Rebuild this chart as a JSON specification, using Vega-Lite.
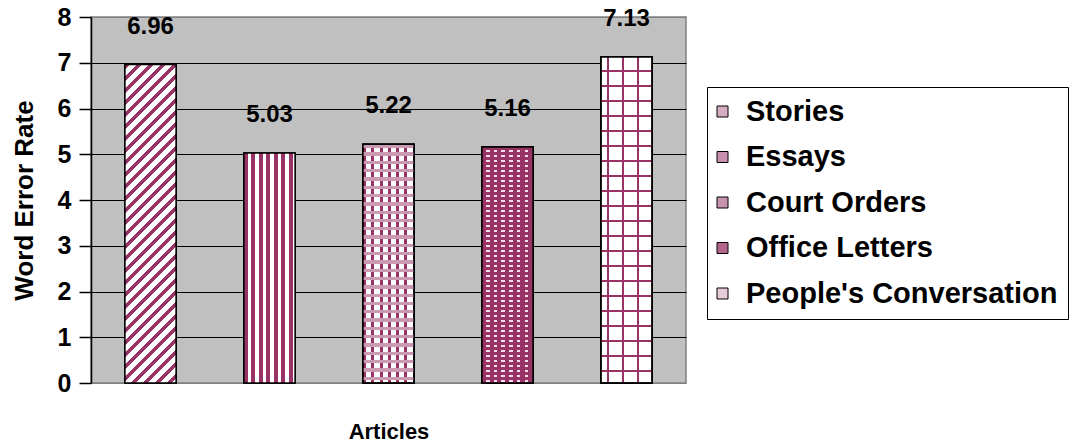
{
  "$schema": "https://vega.github.io/schema/vega-lite/v6.json",
  "autosize": {"type": "none"},
  "padding": {"left": 91, "top": 17, "right": 385, "bottom": 64},
  "width": 595,
  "height": 366,
  "background": "white",
  "data": {"values": [
    {"article": "Stories", "value": 6.96},
    {"article": "Essays", "value": 5.03},
    {"article": "Court Orders", "value": 5.22},
    {"article": "Office Letters", "value": 5.16},
    {"article": "People's Conversation", "value": 7.13}
  ]},
  "encoding": {
    "x": {"field": "article", "type": "nominal",
      "scale": {"domain": ["Stories", "Essays", "Court Orders", "Office Letters", "People's Conversation"], "paddingInner": 0.57, "paddingOuter": 0.285},
      "axis": {"labels": false, "ticks": false, "domain": false, "grid": false, "title": "Articles", "titlePadding": 38}},
    "y": {"field": "value", "type": "quantitative",
      "scale": {"domain": [0, 8], "nice": false},
      "axis": {"values": [0, 1, 2, 3, 4, 5, 6, 7, 8], "title": "Word Error Rate", "titlePadding": 20,
        "labelFontSize": 25, "labelFontWeight": "bold", "labelFont": "Liberation Sans", "labelPadding": 8,
        "grid": true,
        "gridColor": {"condition": {"test": "datum.value === 0 || datum.value === 8", "value": "#808080"}, "value": "black"}}}
  },
  "layer": [
    {
      "mark": {"type": "bar", "stroke": "black", "strokeWidth": 1.5, "opacity": 1},
      "encoding": {
        "color": {"field": "article", "type": "nominal",
          "scale": {"domain": ["Stories", "Essays", "Court Orders", "Office Letters", "People's Conversation"], "range": ["#d6adc2", "#c990ae", "#c792ad", "#b3668c", "#e6ccd9"]},
          "legend": {"title": null, "orient": "none", "legendX": 616, "legendY": 70, "symbolType": "square", "symbolSize": 121, "symbolStrokeColor": "black", "symbolStrokeWidth": 1, "symbolOpacity": 1, "symbolOffset": -9,
            "labelFontSize": 29, "labelFontWeight": "bold", "labelFont": "Liberation Sans", "labelColor": "black", "labelOffset": 9, "rowPadding": 15.5, "padding": 10, "strokeColor": "black", "fillColor": "white", "labelLimit": 400}}
      }
    },
    {
      "transform": [{"filter": {"field": "article", "equal": "Stories"}}],
      "mark": {"type": "bar", "stroke": "black", "strokeWidth": 1.5,
        "fill": {"gradient": "linear", "x1": 0, "y1": 0, "x2": 0.2362, "y2": 1.4696, "stops": [
          {"offset": 0, "color": "#993366"}, {"offset": 0.01, "color": "#993366"}, {"offset": 0.01, "color": "white"}, {"offset": 0.025, "color": "white"},
          {"offset": 0.025, "color": "#993366"}, {"offset": 0.035, "color": "#993366"}, {"offset": 0.035, "color": "white"}, {"offset": 0.05, "color": "white"},
          {"offset": 0.05, "color": "#993366"}, {"offset": 0.06, "color": "#993366"}, {"offset": 0.06, "color": "white"}, {"offset": 0.075, "color": "white"},
          {"offset": 0.075, "color": "#993366"}, {"offset": 0.085, "color": "#993366"}, {"offset": 0.085, "color": "white"}, {"offset": 0.1, "color": "white"},
          {"offset": 0.1, "color": "#993366"}, {"offset": 0.11, "color": "#993366"}, {"offset": 0.11, "color": "white"}, {"offset": 0.125, "color": "white"},
          {"offset": 0.125, "color": "#993366"}, {"offset": 0.135, "color": "#993366"}, {"offset": 0.135, "color": "white"}, {"offset": 0.15, "color": "white"},
          {"offset": 0.15, "color": "#993366"}, {"offset": 0.16, "color": "#993366"}, {"offset": 0.16, "color": "white"}, {"offset": 0.175, "color": "white"},
          {"offset": 0.175, "color": "#993366"}, {"offset": 0.185, "color": "#993366"}, {"offset": 0.185, "color": "white"}, {"offset": 0.2, "color": "white"},
          {"offset": 0.2, "color": "#993366"}, {"offset": 0.21, "color": "#993366"}, {"offset": 0.21, "color": "white"}, {"offset": 0.225, "color": "white"},
          {"offset": 0.225, "color": "#993366"}, {"offset": 0.235, "color": "#993366"}, {"offset": 0.235, "color": "white"}, {"offset": 0.25, "color": "white"},
          {"offset": 0.25, "color": "#993366"}, {"offset": 0.26, "color": "#993366"}, {"offset": 0.26, "color": "white"}, {"offset": 0.275, "color": "white"},
          {"offset": 0.275, "color": "#993366"}, {"offset": 0.285, "color": "#993366"}, {"offset": 0.285, "color": "white"}, {"offset": 0.3, "color": "white"},
          {"offset": 0.3, "color": "#993366"}, {"offset": 0.31, "color": "#993366"}, {"offset": 0.31, "color": "white"}, {"offset": 0.325, "color": "white"},
          {"offset": 0.325, "color": "#993366"}, {"offset": 0.335, "color": "#993366"}, {"offset": 0.335, "color": "white"}, {"offset": 0.35, "color": "white"},
          {"offset": 0.35, "color": "#993366"}, {"offset": 0.36, "color": "#993366"}, {"offset": 0.36, "color": "white"}, {"offset": 0.375, "color": "white"},
          {"offset": 0.375, "color": "#993366"}, {"offset": 0.385, "color": "#993366"}, {"offset": 0.385, "color": "white"}, {"offset": 0.4, "color": "white"},
          {"offset": 0.4, "color": "#993366"}, {"offset": 0.41, "color": "#993366"}, {"offset": 0.41, "color": "white"}, {"offset": 0.425, "color": "white"},
          {"offset": 0.425, "color": "#993366"}, {"offset": 0.435, "color": "#993366"}, {"offset": 0.435, "color": "white"}, {"offset": 0.45, "color": "white"},
          {"offset": 0.45, "color": "#993366"}, {"offset": 0.46, "color": "#993366"}, {"offset": 0.46, "color": "white"}, {"offset": 0.475, "color": "white"},
          {"offset": 0.475, "color": "#993366"}, {"offset": 0.485, "color": "#993366"}, {"offset": 0.485, "color": "white"}, {"offset": 0.5, "color": "white"},
          {"offset": 0.5, "color": "#993366"}, {"offset": 0.51, "color": "#993366"}, {"offset": 0.51, "color": "white"}, {"offset": 0.525, "color": "white"},
          {"offset": 0.525, "color": "#993366"}, {"offset": 0.535, "color": "#993366"}, {"offset": 0.535, "color": "white"}, {"offset": 0.55, "color": "white"},
          {"offset": 0.55, "color": "#993366"}, {"offset": 0.56, "color": "#993366"}, {"offset": 0.56, "color": "white"}, {"offset": 0.575, "color": "white"},
          {"offset": 0.575, "color": "#993366"}, {"offset": 0.585, "color": "#993366"}, {"offset": 0.585, "color": "white"}, {"offset": 0.6, "color": "white"},
          {"offset": 0.6, "color": "#993366"}, {"offset": 0.61, "color": "#993366"}, {"offset": 0.61, "color": "white"}, {"offset": 0.625, "color": "white"},
          {"offset": 0.625, "color": "#993366"}, {"offset": 0.635, "color": "#993366"}, {"offset": 0.635, "color": "white"}, {"offset": 0.65, "color": "white"},
          {"offset": 0.65, "color": "#993366"}, {"offset": 0.66, "color": "#993366"}, {"offset": 0.66, "color": "white"}, {"offset": 0.675, "color": "white"},
          {"offset": 0.675, "color": "#993366"}, {"offset": 0.685, "color": "#993366"}, {"offset": 0.685, "color": "white"}, {"offset": 0.7, "color": "white"},
          {"offset": 0.7, "color": "#993366"}, {"offset": 0.71, "color": "#993366"}, {"offset": 0.71, "color": "white"}, {"offset": 0.725, "color": "white"},
          {"offset": 0.725, "color": "#993366"}, {"offset": 0.735, "color": "#993366"}, {"offset": 0.735, "color": "white"}, {"offset": 0.75, "color": "white"},
          {"offset": 0.75, "color": "#993366"}, {"offset": 0.76, "color": "#993366"}, {"offset": 0.76, "color": "white"}
        ]}}
    },
    {
      "transform": [{"filter": {"field": "article", "equal": "Essays"}}],
      "mark": {"type": "bar", "stroke": "black", "strokeWidth": 1.5,
        "fill": {"gradient": "linear", "x1": 0, "y1": 0, "x2": 2.931, "y2": 0, "stops": [
          {"offset": 0, "color": "#993366"}, {"offset": 0.027, "color": "#993366"}, {"offset": 0.027, "color": "white"}, {"offset": 0.05, "color": "white"},
          {"offset": 0.05, "color": "#993366"}, {"offset": 0.077, "color": "#993366"}, {"offset": 0.077, "color": "white"}, {"offset": 0.1, "color": "white"},
          {"offset": 0.1, "color": "#993366"}, {"offset": 0.127, "color": "#993366"}, {"offset": 0.127, "color": "white"}, {"offset": 0.15, "color": "white"},
          {"offset": 0.15, "color": "#993366"}, {"offset": 0.177, "color": "#993366"}, {"offset": 0.177, "color": "white"}, {"offset": 0.2, "color": "white"},
          {"offset": 0.2, "color": "#993366"}, {"offset": 0.227, "color": "#993366"}, {"offset": 0.227, "color": "white"}, {"offset": 0.25, "color": "white"},
          {"offset": 0.25, "color": "#993366"}, {"offset": 0.277, "color": "#993366"}, {"offset": 0.277, "color": "white"}, {"offset": 0.3, "color": "white"},
          {"offset": 0.3, "color": "#993366"}, {"offset": 0.327, "color": "#993366"}, {"offset": 0.327, "color": "white"}
        ]}}
    },
    {
      "transform": [{"filter": {"field": "article", "equal": "Court Orders"}}],
      "mark": {"type": "bar", "stroke": "black", "strokeWidth": 1.5,
        "fill": {"gradient": "linear", "x1": 0, "y1": 0, "x2": 3.244, "y2": 0, "stops": [
          {"offset": 0, "color": "#993366"}, {"offset": 0.018, "color": "#993366"}, {"offset": 0.018, "color": "white"}, {"offset": 0.05, "color": "white"},
          {"offset": 0.05, "color": "#993366"}, {"offset": 0.068, "color": "#993366"}, {"offset": 0.068, "color": "white"}, {"offset": 0.1, "color": "white"},
          {"offset": 0.1, "color": "#993366"}, {"offset": 0.118, "color": "#993366"}, {"offset": 0.118, "color": "white"}, {"offset": 0.15, "color": "white"},
          {"offset": 0.15, "color": "#993366"}, {"offset": 0.168, "color": "#993366"}, {"offset": 0.168, "color": "white"}, {"offset": 0.2, "color": "white"},
          {"offset": 0.2, "color": "#993366"}, {"offset": 0.218, "color": "#993366"}, {"offset": 0.218, "color": "white"}, {"offset": 0.25, "color": "white"},
          {"offset": 0.25, "color": "#993366"}, {"offset": 0.268, "color": "#993366"}, {"offset": 0.268, "color": "white"}, {"offset": 0.3, "color": "white"},
          {"offset": 0.3, "color": "#993366"}, {"offset": 0.318, "color": "#993366"}, {"offset": 0.318, "color": "white"}
        ]}}
    },
    {
      "transform": [{"filter": {"field": "article", "equal": "Court Orders"}}],
      "mark": {"type": "bar", "stroke": "black", "strokeWidth": 1.5,
        "fill": {"gradient": "linear", "x1": 0, "y1": 0, "x2": 0, "y2": 1.39, "stops": [
          {"offset": 0, "color": "#cc99b3"}, {"offset": 0.01, "color": "#cc99b3"}, {"offset": 0.01, "color": "rgba(255,255,255,0)"}, {"offset": 0.025, "color": "rgba(255,255,255,0)"},
          {"offset": 0.025, "color": "#cc99b3"}, {"offset": 0.035, "color": "#cc99b3"}, {"offset": 0.035, "color": "rgba(255,255,255,0)"}, {"offset": 0.05, "color": "rgba(255,255,255,0)"},
          {"offset": 0.05, "color": "#cc99b3"}, {"offset": 0.06, "color": "#cc99b3"}, {"offset": 0.06, "color": "rgba(255,255,255,0)"}, {"offset": 0.075, "color": "rgba(255,255,255,0)"},
          {"offset": 0.075, "color": "#cc99b3"}, {"offset": 0.085, "color": "#cc99b3"}, {"offset": 0.085, "color": "rgba(255,255,255,0)"}, {"offset": 0.1, "color": "rgba(255,255,255,0)"},
          {"offset": 0.1, "color": "#cc99b3"}, {"offset": 0.11, "color": "#cc99b3"}, {"offset": 0.11, "color": "rgba(255,255,255,0)"}, {"offset": 0.125, "color": "rgba(255,255,255,0)"},
          {"offset": 0.125, "color": "#cc99b3"}, {"offset": 0.135, "color": "#cc99b3"}, {"offset": 0.135, "color": "rgba(255,255,255,0)"}, {"offset": 0.15, "color": "rgba(255,255,255,0)"},
          {"offset": 0.15, "color": "#cc99b3"}, {"offset": 0.16, "color": "#cc99b3"}, {"offset": 0.16, "color": "rgba(255,255,255,0)"}, {"offset": 0.175, "color": "rgba(255,255,255,0)"},
          {"offset": 0.175, "color": "#cc99b3"}, {"offset": 0.185, "color": "#cc99b3"}, {"offset": 0.185, "color": "rgba(255,255,255,0)"}, {"offset": 0.2, "color": "rgba(255,255,255,0)"},
          {"offset": 0.2, "color": "#cc99b3"}, {"offset": 0.21, "color": "#cc99b3"}, {"offset": 0.21, "color": "rgba(255,255,255,0)"}, {"offset": 0.225, "color": "rgba(255,255,255,0)"},
          {"offset": 0.225, "color": "#cc99b3"}, {"offset": 0.235, "color": "#cc99b3"}, {"offset": 0.235, "color": "rgba(255,255,255,0)"}, {"offset": 0.25, "color": "rgba(255,255,255,0)"},
          {"offset": 0.25, "color": "#cc99b3"}, {"offset": 0.26, "color": "#cc99b3"}, {"offset": 0.26, "color": "rgba(255,255,255,0)"}, {"offset": 0.275, "color": "rgba(255,255,255,0)"},
          {"offset": 0.275, "color": "#cc99b3"}, {"offset": 0.285, "color": "#cc99b3"}, {"offset": 0.285, "color": "rgba(255,255,255,0)"}, {"offset": 0.3, "color": "rgba(255,255,255,0)"},
          {"offset": 0.3, "color": "#cc99b3"}, {"offset": 0.31, "color": "#cc99b3"}, {"offset": 0.31, "color": "rgba(255,255,255,0)"}, {"offset": 0.325, "color": "rgba(255,255,255,0)"},
          {"offset": 0.325, "color": "#cc99b3"}, {"offset": 0.335, "color": "#cc99b3"}, {"offset": 0.335, "color": "rgba(255,255,255,0)"}, {"offset": 0.35, "color": "rgba(255,255,255,0)"},
          {"offset": 0.35, "color": "#cc99b3"}, {"offset": 0.36, "color": "#cc99b3"}, {"offset": 0.36, "color": "rgba(255,255,255,0)"}, {"offset": 0.375, "color": "rgba(255,255,255,0)"},
          {"offset": 0.375, "color": "#cc99b3"}, {"offset": 0.385, "color": "#cc99b3"}, {"offset": 0.385, "color": "rgba(255,255,255,0)"}, {"offset": 0.4, "color": "rgba(255,255,255,0)"},
          {"offset": 0.4, "color": "#cc99b3"}, {"offset": 0.41, "color": "#cc99b3"}, {"offset": 0.41, "color": "rgba(255,255,255,0)"}, {"offset": 0.425, "color": "rgba(255,255,255,0)"},
          {"offset": 0.425, "color": "#cc99b3"}, {"offset": 0.435, "color": "#cc99b3"}, {"offset": 0.435, "color": "rgba(255,255,255,0)"}, {"offset": 0.45, "color": "rgba(255,255,255,0)"},
          {"offset": 0.45, "color": "#cc99b3"}, {"offset": 0.46, "color": "#cc99b3"}, {"offset": 0.46, "color": "rgba(255,255,255,0)"}, {"offset": 0.475, "color": "rgba(255,255,255,0)"},
          {"offset": 0.475, "color": "#cc99b3"}, {"offset": 0.485, "color": "#cc99b3"}, {"offset": 0.485, "color": "rgba(255,255,255,0)"}, {"offset": 0.5, "color": "rgba(255,255,255,0)"},
          {"offset": 0.5, "color": "#cc99b3"}, {"offset": 0.51, "color": "#cc99b3"}, {"offset": 0.51, "color": "rgba(255,255,255,0)"}, {"offset": 0.525, "color": "rgba(255,255,255,0)"},
          {"offset": 0.525, "color": "#cc99b3"}, {"offset": 0.535, "color": "#cc99b3"}, {"offset": 0.535, "color": "rgba(255,255,255,0)"}, {"offset": 0.55, "color": "rgba(255,255,255,0)"},
          {"offset": 0.55, "color": "#cc99b3"}, {"offset": 0.56, "color": "#cc99b3"}, {"offset": 0.56, "color": "rgba(255,255,255,0)"}, {"offset": 0.575, "color": "rgba(255,255,255,0)"},
          {"offset": 0.575, "color": "#cc99b3"}, {"offset": 0.585, "color": "#cc99b3"}, {"offset": 0.585, "color": "rgba(255,255,255,0)"}, {"offset": 0.6, "color": "rgba(255,255,255,0)"},
          {"offset": 0.6, "color": "#cc99b3"}, {"offset": 0.61, "color": "#cc99b3"}, {"offset": 0.61, "color": "rgba(255,255,255,0)"}, {"offset": 0.625, "color": "rgba(255,255,255,0)"},
          {"offset": 0.625, "color": "#cc99b3"}, {"offset": 0.635, "color": "#cc99b3"}, {"offset": 0.635, "color": "rgba(255,255,255,0)"}, {"offset": 0.65, "color": "rgba(255,255,255,0)"},
          {"offset": 0.65, "color": "#cc99b3"}, {"offset": 0.66, "color": "#cc99b3"}, {"offset": 0.66, "color": "rgba(255,255,255,0)"}, {"offset": 0.675, "color": "rgba(255,255,255,0)"},
          {"offset": 0.675, "color": "#cc99b3"}, {"offset": 0.685, "color": "#cc99b3"}, {"offset": 0.685, "color": "rgba(255,255,255,0)"}, {"offset": 0.7, "color": "rgba(255,255,255,0)"},
          {"offset": 0.7, "color": "#cc99b3"}, {"offset": 0.71, "color": "#cc99b3"}, {"offset": 0.71, "color": "rgba(255,255,255,0)"}
        ]}}
    },
    {
      "transform": [{"filter": {"field": "article", "equal": "Office Letters"}}],
      "mark": {"type": "bar", "stroke": "black", "strokeWidth": 1.5,
        "fill": {"gradient": "linear", "x1": 0, "y1": 0, "x2": 3.01, "y2": 0, "stops": [
          {"offset": 0, "color": "#993366"}, {"offset": 0.027, "color": "#993366"}, {"offset": 0.027, "color": "#f3e1ea"}, {"offset": 0.05, "color": "#f3e1ea"},
          {"offset": 0.05, "color": "#993366"}, {"offset": 0.077, "color": "#993366"}, {"offset": 0.077, "color": "#f3e1ea"}, {"offset": 0.1, "color": "#f3e1ea"},
          {"offset": 0.1, "color": "#993366"}, {"offset": 0.127, "color": "#993366"}, {"offset": 0.127, "color": "#f3e1ea"}, {"offset": 0.15, "color": "#f3e1ea"},
          {"offset": 0.15, "color": "#993366"}, {"offset": 0.177, "color": "#993366"}, {"offset": 0.177, "color": "#f3e1ea"}, {"offset": 0.2, "color": "#f3e1ea"},
          {"offset": 0.2, "color": "#993366"}, {"offset": 0.227, "color": "#993366"}, {"offset": 0.227, "color": "#f3e1ea"}, {"offset": 0.25, "color": "#f3e1ea"},
          {"offset": 0.25, "color": "#993366"}, {"offset": 0.277, "color": "#993366"}, {"offset": 0.277, "color": "#f3e1ea"}, {"offset": 0.3, "color": "#f3e1ea"},
          {"offset": 0.3, "color": "#993366"}, {"offset": 0.327, "color": "#993366"}, {"offset": 0.327, "color": "#f3e1ea"}
        ]}}
    },
    {
      "transform": [{"filter": {"field": "article", "equal": "Office Letters"}}],
      "mark": {"type": "bar", "stroke": "black", "strokeWidth": 1.5,
        "fill": {"gradient": "linear", "x1": 0, "y1": 0, "x2": 0, "y2": 1.059, "stops": [
          {"offset": 0, "color": "#993366"}, {"offset": 0.012, "color": "#993366"}, {"offset": 0.012, "color": "rgba(255,255,255,0)"}, {"offset": 0.02, "color": "rgba(255,255,255,0)"},
          {"offset": 0.02, "color": "#993366"}, {"offset": 0.032, "color": "#993366"}, {"offset": 0.032, "color": "rgba(255,255,255,0)"}, {"offset": 0.04, "color": "rgba(255,255,255,0)"},
          {"offset": 0.04, "color": "#993366"}, {"offset": 0.052, "color": "#993366"}, {"offset": 0.052, "color": "rgba(255,255,255,0)"}, {"offset": 0.06, "color": "rgba(255,255,255,0)"},
          {"offset": 0.06, "color": "#993366"}, {"offset": 0.072, "color": "#993366"}, {"offset": 0.072, "color": "rgba(255,255,255,0)"}, {"offset": 0.08, "color": "rgba(255,255,255,0)"},
          {"offset": 0.08, "color": "#993366"}, {"offset": 0.092, "color": "#993366"}, {"offset": 0.092, "color": "rgba(255,255,255,0)"}, {"offset": 0.1, "color": "rgba(255,255,255,0)"},
          {"offset": 0.1, "color": "#993366"}, {"offset": 0.112, "color": "#993366"}, {"offset": 0.112, "color": "rgba(255,255,255,0)"}, {"offset": 0.12, "color": "rgba(255,255,255,0)"},
          {"offset": 0.12, "color": "#993366"}, {"offset": 0.132, "color": "#993366"}, {"offset": 0.132, "color": "rgba(255,255,255,0)"}, {"offset": 0.14, "color": "rgba(255,255,255,0)"},
          {"offset": 0.14, "color": "#993366"}, {"offset": 0.152, "color": "#993366"}, {"offset": 0.152, "color": "rgba(255,255,255,0)"}, {"offset": 0.16, "color": "rgba(255,255,255,0)"},
          {"offset": 0.16, "color": "#993366"}, {"offset": 0.172, "color": "#993366"}, {"offset": 0.172, "color": "rgba(255,255,255,0)"}, {"offset": 0.18, "color": "rgba(255,255,255,0)"},
          {"offset": 0.18, "color": "#993366"}, {"offset": 0.192, "color": "#993366"}, {"offset": 0.192, "color": "rgba(255,255,255,0)"}, {"offset": 0.2, "color": "rgba(255,255,255,0)"},
          {"offset": 0.2, "color": "#993366"}, {"offset": 0.212, "color": "#993366"}, {"offset": 0.212, "color": "rgba(255,255,255,0)"}, {"offset": 0.22, "color": "rgba(255,255,255,0)"},
          {"offset": 0.22, "color": "#993366"}, {"offset": 0.232, "color": "#993366"}, {"offset": 0.232, "color": "rgba(255,255,255,0)"}, {"offset": 0.24, "color": "rgba(255,255,255,0)"},
          {"offset": 0.24, "color": "#993366"}, {"offset": 0.252, "color": "#993366"}, {"offset": 0.252, "color": "rgba(255,255,255,0)"}, {"offset": 0.26, "color": "rgba(255,255,255,0)"},
          {"offset": 0.26, "color": "#993366"}, {"offset": 0.272, "color": "#993366"}, {"offset": 0.272, "color": "rgba(255,255,255,0)"}, {"offset": 0.28, "color": "rgba(255,255,255,0)"},
          {"offset": 0.28, "color": "#993366"}, {"offset": 0.292, "color": "#993366"}, {"offset": 0.292, "color": "rgba(255,255,255,0)"}, {"offset": 0.3, "color": "rgba(255,255,255,0)"},
          {"offset": 0.3, "color": "#993366"}, {"offset": 0.312, "color": "#993366"}, {"offset": 0.312, "color": "rgba(255,255,255,0)"}, {"offset": 0.32, "color": "rgba(255,255,255,0)"},
          {"offset": 0.32, "color": "#993366"}, {"offset": 0.332, "color": "#993366"}, {"offset": 0.332, "color": "rgba(255,255,255,0)"}, {"offset": 0.34, "color": "rgba(255,255,255,0)"},
          {"offset": 0.34, "color": "#993366"}, {"offset": 0.352, "color": "#993366"}, {"offset": 0.352, "color": "rgba(255,255,255,0)"}, {"offset": 0.36, "color": "rgba(255,255,255,0)"},
          {"offset": 0.36, "color": "#993366"}, {"offset": 0.372, "color": "#993366"}, {"offset": 0.372, "color": "rgba(255,255,255,0)"}, {"offset": 0.38, "color": "rgba(255,255,255,0)"},
          {"offset": 0.38, "color": "#993366"}, {"offset": 0.392, "color": "#993366"}, {"offset": 0.392, "color": "rgba(255,255,255,0)"}, {"offset": 0.4, "color": "rgba(255,255,255,0)"},
          {"offset": 0.4, "color": "#993366"}, {"offset": 0.412, "color": "#993366"}, {"offset": 0.412, "color": "rgba(255,255,255,0)"}, {"offset": 0.42, "color": "rgba(255,255,255,0)"},
          {"offset": 0.42, "color": "#993366"}, {"offset": 0.432, "color": "#993366"}, {"offset": 0.432, "color": "rgba(255,255,255,0)"}, {"offset": 0.44, "color": "rgba(255,255,255,0)"},
          {"offset": 0.44, "color": "#993366"}, {"offset": 0.452, "color": "#993366"}, {"offset": 0.452, "color": "rgba(255,255,255,0)"}, {"offset": 0.46, "color": "rgba(255,255,255,0)"},
          {"offset": 0.46, "color": "#993366"}, {"offset": 0.472, "color": "#993366"}, {"offset": 0.472, "color": "rgba(255,255,255,0)"}, {"offset": 0.48, "color": "rgba(255,255,255,0)"},
          {"offset": 0.48, "color": "#993366"}, {"offset": 0.492, "color": "#993366"}, {"offset": 0.492, "color": "rgba(255,255,255,0)"}, {"offset": 0.5, "color": "rgba(255,255,255,0)"},
          {"offset": 0.5, "color": "#993366"}, {"offset": 0.512, "color": "#993366"}, {"offset": 0.512, "color": "rgba(255,255,255,0)"}, {"offset": 0.52, "color": "rgba(255,255,255,0)"},
          {"offset": 0.52, "color": "#993366"}, {"offset": 0.532, "color": "#993366"}, {"offset": 0.532, "color": "rgba(255,255,255,0)"}, {"offset": 0.54, "color": "rgba(255,255,255,0)"},
          {"offset": 0.54, "color": "#993366"}, {"offset": 0.552, "color": "#993366"}, {"offset": 0.552, "color": "rgba(255,255,255,0)"}, {"offset": 0.56, "color": "rgba(255,255,255,0)"},
          {"offset": 0.56, "color": "#993366"}, {"offset": 0.572, "color": "#993366"}, {"offset": 0.572, "color": "rgba(255,255,255,0)"}, {"offset": 0.58, "color": "rgba(255,255,255,0)"},
          {"offset": 0.58, "color": "#993366"}, {"offset": 0.592, "color": "#993366"}, {"offset": 0.592, "color": "rgba(255,255,255,0)"}, {"offset": 0.6, "color": "rgba(255,255,255,0)"},
          {"offset": 0.6, "color": "#993366"}, {"offset": 0.612, "color": "#993366"}, {"offset": 0.612, "color": "rgba(255,255,255,0)"}, {"offset": 0.62, "color": "rgba(255,255,255,0)"},
          {"offset": 0.62, "color": "#993366"}, {"offset": 0.632, "color": "#993366"}, {"offset": 0.632, "color": "rgba(255,255,255,0)"}, {"offset": 0.64, "color": "rgba(255,255,255,0)"},
          {"offset": 0.64, "color": "#993366"}, {"offset": 0.652, "color": "#993366"}, {"offset": 0.652, "color": "rgba(255,255,255,0)"}, {"offset": 0.66, "color": "rgba(255,255,255,0)"},
          {"offset": 0.66, "color": "#993366"}, {"offset": 0.672, "color": "#993366"}, {"offset": 0.672, "color": "rgba(255,255,255,0)"}, {"offset": 0.68, "color": "rgba(255,255,255,0)"},
          {"offset": 0.68, "color": "#993366"}, {"offset": 0.692, "color": "#993366"}, {"offset": 0.692, "color": "rgba(255,255,255,0)"}, {"offset": 0.7, "color": "rgba(255,255,255,0)"},
          {"offset": 0.7, "color": "#993366"}, {"offset": 0.712, "color": "#993366"}, {"offset": 0.712, "color": "rgba(255,255,255,0)"}, {"offset": 0.72, "color": "rgba(255,255,255,0)"},
          {"offset": 0.72, "color": "#993366"}, {"offset": 0.732, "color": "#993366"}, {"offset": 0.732, "color": "rgba(255,255,255,0)"}, {"offset": 0.74, "color": "rgba(255,255,255,0)"},
          {"offset": 0.74, "color": "#993366"}, {"offset": 0.752, "color": "#993366"}, {"offset": 0.752, "color": "rgba(255,255,255,0)"}, {"offset": 0.76, "color": "rgba(255,255,255,0)"},
          {"offset": 0.76, "color": "#993366"}, {"offset": 0.772, "color": "#993366"}, {"offset": 0.772, "color": "rgba(255,255,255,0)"}, {"offset": 0.78, "color": "rgba(255,255,255,0)"},
          {"offset": 0.78, "color": "#993366"}, {"offset": 0.792, "color": "#993366"}, {"offset": 0.792, "color": "rgba(255,255,255,0)"}, {"offset": 0.8, "color": "rgba(255,255,255,0)"},
          {"offset": 0.8, "color": "#993366"}, {"offset": 0.812, "color": "#993366"}, {"offset": 0.812, "color": "rgba(255,255,255,0)"}, {"offset": 0.82, "color": "rgba(255,255,255,0)"},
          {"offset": 0.82, "color": "#993366"}, {"offset": 0.832, "color": "#993366"}, {"offset": 0.832, "color": "rgba(255,255,255,0)"}, {"offset": 0.84, "color": "rgba(255,255,255,0)"},
          {"offset": 0.84, "color": "#993366"}, {"offset": 0.852, "color": "#993366"}, {"offset": 0.852, "color": "rgba(255,255,255,0)"}, {"offset": 0.86, "color": "rgba(255,255,255,0)"},
          {"offset": 0.86, "color": "#993366"}, {"offset": 0.872, "color": "#993366"}, {"offset": 0.872, "color": "rgba(255,255,255,0)"}, {"offset": 0.88, "color": "rgba(255,255,255,0)"},
          {"offset": 0.88, "color": "#993366"}, {"offset": 0.892, "color": "#993366"}, {"offset": 0.892, "color": "rgba(255,255,255,0)"}, {"offset": 0.9, "color": "rgba(255,255,255,0)"},
          {"offset": 0.9, "color": "#993366"}, {"offset": 0.912, "color": "#993366"}, {"offset": 0.912, "color": "rgba(255,255,255,0)"}, {"offset": 0.92, "color": "rgba(255,255,255,0)"},
          {"offset": 0.92, "color": "#993366"}, {"offset": 0.932, "color": "#993366"}, {"offset": 0.932, "color": "rgba(255,255,255,0)"}, {"offset": 0.94, "color": "rgba(255,255,255,0)"},
          {"offset": 0.94, "color": "#993366"}, {"offset": 0.952, "color": "#993366"}, {"offset": 0.952, "color": "rgba(255,255,255,0)"}
        ]}}
    },
    {
      "transform": [{"filter": {"field": "article", "equal": "People's Conversation"}}],
      "mark": {"type": "bar", "stroke": "black", "strokeWidth": 1.5,
        "fill": {"gradient": "linear", "x1": 0, "y1": 0, "x2": 2.931, "y2": 0, "stops": [
          {"offset": 0, "color": "white"}, {"offset": 0.04, "color": "white"}, {"offset": 0.04, "color": "#993366"}, {"offset": 0.053, "color": "#993366"},
          {"offset": 0.053, "color": "white"}, {"offset": 0.14, "color": "white"}, {"offset": 0.14, "color": "#993366"}, {"offset": 0.153, "color": "#993366"},
          {"offset": 0.153, "color": "white"}, {"offset": 0.24, "color": "white"}, {"offset": 0.24, "color": "#993366"}, {"offset": 0.253, "color": "#993366"},
          {"offset": 0.253, "color": "white"}, {"offset": 0.34, "color": "white"}, {"offset": 0.34, "color": "#993366"}, {"offset": 0.353, "color": "#993366"},
          {"offset": 0.353, "color": "white"}
        ]}}
    },
    {
      "transform": [{"filter": {"field": "article", "equal": "People's Conversation"}}],
      "mark": {"type": "bar", "stroke": "black", "strokeWidth": 1.5,
        "fill": {"gradient": "linear", "x1": 0, "y1": 0, "x2": 0, "y2": 1.1496, "stops": [
          {"offset": 0, "color": "rgba(255,255,255,0)"}, {"offset": 0.035, "color": "rgba(255,255,255,0)"}, {"offset": 0.035, "color": "#993366"}, {"offset": 0.04, "color": "#993366"},
          {"offset": 0.04, "color": "rgba(255,255,255,0)"}, {"offset": 0.075, "color": "rgba(255,255,255,0)"}, {"offset": 0.075, "color": "#993366"}, {"offset": 0.08, "color": "#993366"},
          {"offset": 0.08, "color": "rgba(255,255,255,0)"}, {"offset": 0.115, "color": "rgba(255,255,255,0)"}, {"offset": 0.115, "color": "#993366"}, {"offset": 0.12, "color": "#993366"},
          {"offset": 0.12, "color": "rgba(255,255,255,0)"}, {"offset": 0.155, "color": "rgba(255,255,255,0)"}, {"offset": 0.155, "color": "#993366"}, {"offset": 0.16, "color": "#993366"},
          {"offset": 0.16, "color": "rgba(255,255,255,0)"}, {"offset": 0.195, "color": "rgba(255,255,255,0)"}, {"offset": 0.195, "color": "#993366"}, {"offset": 0.2, "color": "#993366"},
          {"offset": 0.2, "color": "rgba(255,255,255,0)"}, {"offset": 0.235, "color": "rgba(255,255,255,0)"}, {"offset": 0.235, "color": "#993366"}, {"offset": 0.24, "color": "#993366"},
          {"offset": 0.24, "color": "rgba(255,255,255,0)"}, {"offset": 0.275, "color": "rgba(255,255,255,0)"}, {"offset": 0.275, "color": "#993366"}, {"offset": 0.28, "color": "#993366"},
          {"offset": 0.28, "color": "rgba(255,255,255,0)"}, {"offset": 0.315, "color": "rgba(255,255,255,0)"}, {"offset": 0.315, "color": "#993366"}, {"offset": 0.32, "color": "#993366"},
          {"offset": 0.32, "color": "rgba(255,255,255,0)"}, {"offset": 0.355, "color": "rgba(255,255,255,0)"}, {"offset": 0.355, "color": "#993366"}, {"offset": 0.36, "color": "#993366"},
          {"offset": 0.36, "color": "rgba(255,255,255,0)"}, {"offset": 0.395, "color": "rgba(255,255,255,0)"}, {"offset": 0.395, "color": "#993366"}, {"offset": 0.4, "color": "#993366"},
          {"offset": 0.4, "color": "rgba(255,255,255,0)"}, {"offset": 0.435, "color": "rgba(255,255,255,0)"}, {"offset": 0.435, "color": "#993366"}, {"offset": 0.44, "color": "#993366"},
          {"offset": 0.44, "color": "rgba(255,255,255,0)"}, {"offset": 0.475, "color": "rgba(255,255,255,0)"}, {"offset": 0.475, "color": "#993366"}, {"offset": 0.48, "color": "#993366"},
          {"offset": 0.48, "color": "rgba(255,255,255,0)"}, {"offset": 0.515, "color": "rgba(255,255,255,0)"}, {"offset": 0.515, "color": "#993366"}, {"offset": 0.52, "color": "#993366"},
          {"offset": 0.52, "color": "rgba(255,255,255,0)"}, {"offset": 0.555, "color": "rgba(255,255,255,0)"}, {"offset": 0.555, "color": "#993366"}, {"offset": 0.56, "color": "#993366"},
          {"offset": 0.56, "color": "rgba(255,255,255,0)"}, {"offset": 0.595, "color": "rgba(255,255,255,0)"}, {"offset": 0.595, "color": "#993366"}, {"offset": 0.6, "color": "#993366"},
          {"offset": 0.6, "color": "rgba(255,255,255,0)"}, {"offset": 0.635, "color": "rgba(255,255,255,0)"}, {"offset": 0.635, "color": "#993366"}, {"offset": 0.64, "color": "#993366"},
          {"offset": 0.64, "color": "rgba(255,255,255,0)"}, {"offset": 0.675, "color": "rgba(255,255,255,0)"}, {"offset": 0.675, "color": "#993366"}, {"offset": 0.68, "color": "#993366"},
          {"offset": 0.68, "color": "rgba(255,255,255,0)"}, {"offset": 0.715, "color": "rgba(255,255,255,0)"}, {"offset": 0.715, "color": "#993366"}, {"offset": 0.72, "color": "#993366"},
          {"offset": 0.72, "color": "rgba(255,255,255,0)"}, {"offset": 0.755, "color": "rgba(255,255,255,0)"}, {"offset": 0.755, "color": "#993366"}, {"offset": 0.76, "color": "#993366"},
          {"offset": 0.76, "color": "rgba(255,255,255,0)"}, {"offset": 0.795, "color": "rgba(255,255,255,0)"}, {"offset": 0.795, "color": "#993366"}, {"offset": 0.8, "color": "#993366"},
          {"offset": 0.8, "color": "rgba(255,255,255,0)"}, {"offset": 0.835, "color": "rgba(255,255,255,0)"}, {"offset": 0.835, "color": "#993366"}, {"offset": 0.84, "color": "#993366"},
          {"offset": 0.84, "color": "rgba(255,255,255,0)"}
        ]}}
    },
    {
      "mark": {"type": "text", "font": "Liberation Sans", "fontWeight": "bold", "fontSize": 24, "color": "black", "baseline": "middle", "align": "center", "dy": -38},
      "encoding": {"text": {"field": "value", "type": "quantitative", "format": ".2f"}}
    }
  ],
  "config": {
    "font": "Liberation Sans",
    "view": {"fill": "#C0C0C0", "stroke": "#808080", "strokeWidth": 1.5},
    "axis": {"labelFont": "Liberation Sans", "titleFont": "Liberation Sans", "titleFontWeight": "bold", "titleColor": "black", "labelColor": "black"},
    "axisX": {"titleFontSize": 22},
    "axisY": {"titleFontSize": 26, "labelFontSize": 25, "labelFontWeight": "bold", "labelPadding": 8, "tickSize": 12, "tickColor": "black", "tickWidth": 1.5, "domainColor": "black", "domainWidth": 1.5, "gridWidth": 1}
  }
}
